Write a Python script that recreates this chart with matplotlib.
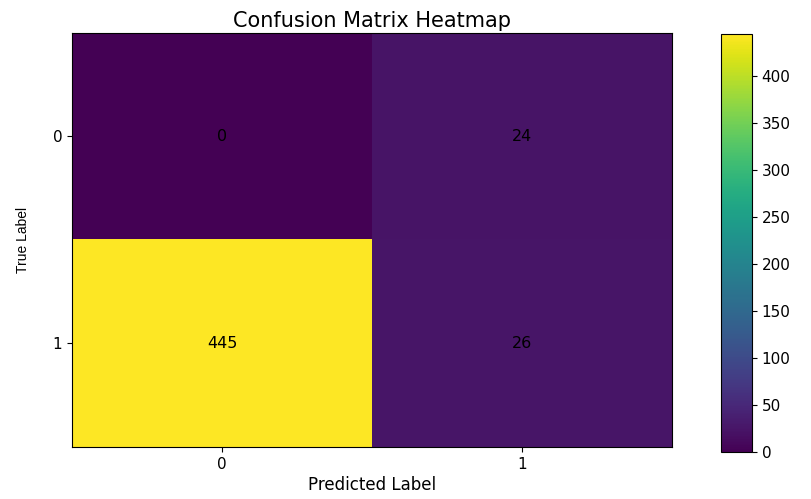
import matplotlib
matplotlib.use("Agg")
import matplotlib.pyplot as plt
import numpy as np

# confusion matrix counts (rows = true, cols = predicted)
class_labels = ["0", "1"]
row_true_0 = [0, 24]
row_true_1 = [445, 26]

cm = np.array([row_true_0, row_true_1])

fig = plt.figure(figsize=(8.11, 4.99), dpi=100)
ax = fig.add_axes([0.0888, 0.1042, 0.7398, 0.8297])
cax = fig.add_axes([0.889, 0.0942, 0.0382, 0.8377])

im = ax.imshow(cm, cmap="viridis", aspect="auto", vmin=0, vmax=cm.max())
cbar = fig.colorbar(im, cax=cax)
cbar.ax.tick_params(labelsize=11)

# annotate each cell with its count
for i in range(cm.shape[0]):
    for j in range(cm.shape[1]):
        ax.text(j, i, str(cm[i, j]), ha="center", va="center",
                color="black", fontsize=11.5)

ax.set_xticks(range(len(class_labels)))
ax.set_yticks(range(len(class_labels)))
ax.set_xticklabels(class_labels)
ax.set_yticklabels(class_labels)
ax.tick_params(labelsize=11)

ax.set_title("Confusion Matrix Heatmap", fontsize=15, pad=4)
ax.set_xlabel("Predicted Label", fontsize=12, labelpad=3)
ax.set_ylabel("True Label", fontsize=10,
              family=["Liberation Sans Narrow", "Liberation Sans", "DejaVu Sans"],
              labelpad=16)

fig.savefig("out.png", dpi=100)
